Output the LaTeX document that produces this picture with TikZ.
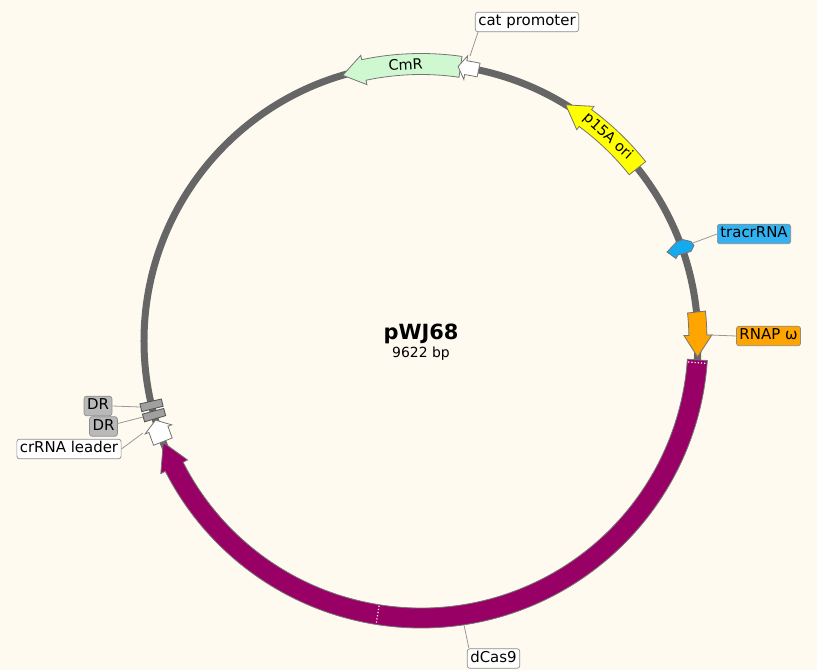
\documentclass[tikz,border=0pt]{standalone}
\usepackage{fontspec}
\usetikzlibrary{positioning}
\usetikzlibrary{calc}
\newfontfamily\mapfont{DejaVu Sans}
\definecolor{paper}{RGB}{255,250,240}
\definecolor{backbone}{RGB}{102,102,102}
\definecolor{cmrgreen}{RGB}{208,248,208}
\definecolor{oriyellow}{RGB}{255,255,0}
\definecolor{tracrblue}{RGB}{20,170,240}
\definecolor{tracrlabel}{RGB}{50,178,240}
\definecolor{rnaporange}{RGB}{255,165,0}
\definecolor{casred}{RGB}{153,0,102}
\definecolor{drgray}{RGB}{160,160,160}
\definecolor{drlabel}{RGB}{185,185,185}
\newcommand{\ringrad}{277}
% feature arrow: style, start, head base, tip, half body, half head
\newcommand{\featurearrow}[6]{%
  \pgfmathsetmacro\fbo{\ringrad+#5}
  \pgfmathsetmacro\fbi{\ringrad-#5}
  \pgfmathsetmacro\fho{\ringrad+#6}
  \pgfmathsetmacro\fhi{\ringrad-#6}
  \draw[#1] (#2:\fbo) arc[start angle=#2, end angle=#3, radius=\fbo]
    -- (#3:\fho) -- (#4:\ringrad) -- (#3:\fhi) -- (#3:\fbi)
    arc[start angle=#3, end angle=#2, radius=\fbi] -- cycle;
}
% feature box: style, start, end, half width
\newcommand{\featurebox}[4]{%
  \pgfmathsetmacro\fbo{\ringrad+#4}
  \pgfmathsetmacro\fbi{\ringrad-#4}
  \draw[#1] (#2:\fbo) arc[start angle=#2, end angle=#3, radius=\fbo]
    -- (#3:\fbi) arc[start angle=#3, end angle=#2, radius=\fbi] -- cycle;
}

\begin{document}
\begin{tikzpicture}[x=1bp, y=1bp,
    feat/.style={draw=backbone!90, line width=0.8bp, line join=miter},
    lbl/.style={draw=gray!90, line width=0.7bp, rounded corners=2.5bp, inner xsep=3bp, inner ysep=2.5bp,
      text height=11bp, text depth=3.5bp, font=\mapfont\fontsize{15}{18}\selectfont},
    intext/.style={inner sep=0pt, font=\mapfont\fontsize{14.5}{17}\selectfont},
    leader/.style={draw=gray!80, line width=0.8bp}]
    % paper
    \fill[paper] (-421,-329) rectangle (396,341);
    \useasboundingbox (-421,-329) rectangle (396,341);

    % backbone
    \draw[backbone, line width=7bp] (0,0) circle (\ringrad);

    % features
    \featurearrow{feat, fill=cmrgreen}{81.8}{101.9}{106.4}{10.5}{15}
    \featurearrow{feat, fill=white}{78.0}{80.7}{82.3}{7}{12}
    \featurearrow{feat, fill=oriyellow}{38.6}{53.6}{58.5}{10.5}{14.5}
    \featurearrow{feat, fill=rnaporange}{6.0}{1.2}{-3.3}{9}{14}
    \featurearrow{feat, fill=casred}{-3.9}{-153.0}{-158.5}{10}{15}
    \featurearrow{feat, fill=white}{201.3}{198.6}{196.6}{10}{14}
    \featurebox{feat, draw=backbone!80!black, fill=drgray}{192.6}{194.2}{11}
    \featurebox{feat, draw=backbone!80!black, fill=drgray}{194.7}{196.3}{11}
    \draw[feat, fill=tracrblue] (246,89) -- (255,98.5) -- (261.7,101.5) -- (270,99.5)
      -- (273,95.5) -- (270,89.5) -- (257,86) -- (255,82.5) -- cycle;
    % dCas9 joins
    \draw[white, dotted, line width=1.2bp] (-4.5:268) -- (-4.5:286);
    \draw[white, dotted, line width=1.2bp] (261:268) -- (261:286);

    % texts on the features
    \node[intext, rotate=3.2] (cmrtext) at (93.2:\ringrad) {CmR};
    \node[intext, rotate=-42.2] (oritext) at (47.6:\ringrad) {p15A ori};

    % name and size
    \node[inner sep=0pt, font=\mapfont\bfseries\fontsize{21}{24}\selectfont] (name) at (0,7) {pWJ68};
    \node[inner sep=0pt, font=\mapfont\fontsize{14}{16}\selectfont] (size) at (0,-13) {9622 bp};

    % labels
    \node[lbl, fill=white] (catlbl) at (106,319) {cat promoter};
    \node[lbl, fill=tracrlabel] (trlbl) at (333,107) {tracrRNA};
    \node[lbl, fill=rnaporange] (rnaplbl) at (347.5,5) {RNAP ω};
    \node[lbl, fill=white] (caslbl) at (72.5,-317.5) {dCas9};
    \node[lbl, fill=drlabel] (dr1lbl) at (-323,-65) {DR};
    \node[lbl, fill=drlabel] (dr2lbl) at (-317.5,-85.5) {DR};
    \node[lbl, fill=white] (crlbl) at (-352,-108) {crRNA leader};

    % leader lines
    \coordinate (catpt) at (49,285);
    \coordinate (trpt) at (272,98);
    \coordinate (rnappt) at (289,6);
    \coordinate (caspt) at (43,-284);
    \coordinate (dr1pt) at (-281,-66);
    \coordinate (dr2pt) at (-278,-76);
    \coordinate (crpt) at (-278,-92);
    \draw[leader] ([xshift=3bp]catlbl.south west) -- (catpt);
    \draw[leader] (trlbl.west) -- (trpt);
    \draw[leader] (rnaplbl.west) -- (rnappt);
    \draw[leader] ([xshift=2bp]caslbl.north west) -- (caspt);
    \draw[leader] (dr1lbl.east) -- (dr1pt);
    \draw[leader] ([yshift=3bp]dr2lbl.east) -- (dr2pt);
    \draw[leader] (crlbl.east) -- (crpt);
\end{tikzpicture}
\end{document}
